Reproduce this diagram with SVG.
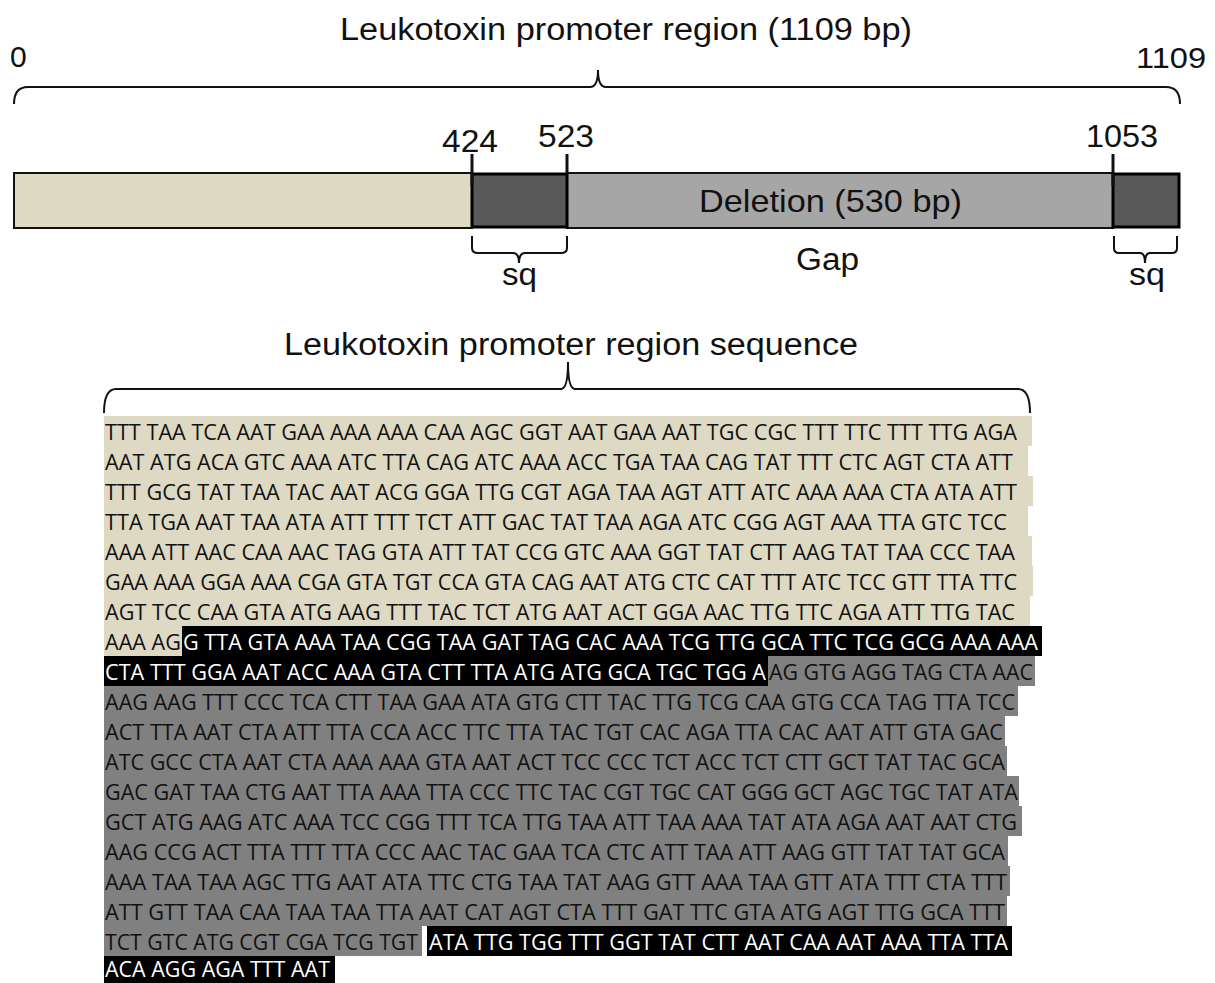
<svg xmlns="http://www.w3.org/2000/svg" width="1215" height="983" viewBox="0 0 1215 983">
<style>
.lbl{font-family:"Liberation Sans",Arial,sans-serif;fill:#111}
.brace{fill:none;stroke:#111;stroke-width:2}
.tick{stroke:#111;stroke-width:3}
.seq{font-family:"Open Sans","Noto Sans",sans-serif;font-size:21.5px;fill:#111}
.w{fill:#fff}
.bg1{fill:#DDD9C3}
.bg2{fill:#808080}
.bg3{fill:#000}
</style>
<rect width="1215" height="983" fill="#fff"/>
<g id="header">
<text class="lbl" x="340" y="40" font-size="31" textLength="572" lengthAdjust="spacingAndGlyphs">Leukotoxin promoter region (1109 bp)</text>
<text class="lbl" x="10" y="67" font-size="30">0</text>
<text class="lbl" x="1136" y="68" font-size="30" textLength="70" lengthAdjust="spacingAndGlyphs">1109</text>
</g>
<g id="bar">
<rect x="14" y="173" width="458" height="55" fill="#DDD9C3" stroke="#111" stroke-width="2"/>
<rect x="567" y="173" width="546" height="55" fill="#A6A6A6" stroke="#111" stroke-width="2"/>
<rect x="472" y="174" width="95" height="53" fill="#595959" stroke="#000" stroke-width="3"/>
<rect x="1113" y="174" width="66" height="53" fill="#595959" stroke="#000" stroke-width="3"/>
<text class="lbl" x="699" y="212" font-size="32" textLength="263" lengthAdjust="spacingAndGlyphs">Deletion (530 bp)</text>
</g>
<g id="markers">
<line class="tick" x1="472" y1="154" x2="472" y2="186"/>
<line class="tick" x1="567" y1="154" x2="567" y2="174"/>
<line class="tick" x1="1113" y1="154" x2="1113" y2="186"/>
<text class="lbl" x="442" y="152" font-size="32" textLength="56" lengthAdjust="spacingAndGlyphs">424</text>
<text class="lbl" x="538" y="147" font-size="32" textLength="56" lengthAdjust="spacingAndGlyphs">523</text>
<text class="lbl" x="1086" y="147" font-size="32" textLength="72" lengthAdjust="spacingAndGlyphs">1053</text>
</g>
<g id="sq1">
<text class="lbl" x="502" y="285" font-size="31" textLength="35" lengthAdjust="spacingAndGlyphs">sq</text>
</g>
<g id="sq2">
<text class="lbl" x="1129" y="285" font-size="31" textLength="36" lengthAdjust="spacingAndGlyphs">sq</text>
</g>
<g id="gap">
<text class="lbl" x="796" y="270" font-size="31" textLength="63" lengthAdjust="spacingAndGlyphs">Gap</text>
</g>
<g id="seqtitle">
<text class="lbl" x="284" y="355" font-size="31" textLength="574" lengthAdjust="spacingAndGlyphs">Leukotoxin promoter region sequence</text>
</g>
<g id="connectors">
<path class="brace" d="M14,104 Q14,87 28,87 L590,87 Q598,87 598,70 Q598,87 606,87 L1166,87 Q1180,87 1180,104"/>
<path class="brace" d="M472,236 L472,248 Q472,253 478,253 L513,253 Q519,253 519,263 Q519,253 525,253 L561,253 Q567,253 567,248 L567,236"/>
<path class="brace" d="M1114,236 L1114,248 Q1114,253 1119,253 L1140,253 Q1145,253 1145,263 Q1145,253 1150,253 L1172,253 Q1177,253 1177,248 L1177,236"/>
<path class="brace" d="M104,413 Q104,389 116,389 L561,389 Q568,389 568,362 Q568,389 575,389 L1018,389 Q1030,389 1030,413"/>
</g>
<g id="sequence">
<rect class="bg1" x="104" y="416" width="928" height="30"/>
<rect class="bg1" x="104" y="446" width="924" height="30"/>
<rect class="bg1" x="104" y="476" width="929" height="30"/>
<rect class="bg1" x="104" y="506" width="924" height="30"/>
<rect class="bg1" x="104" y="536" width="928" height="30"/>
<rect class="bg1" x="104" y="566" width="929" height="30"/>
<rect class="bg1" x="104" y="596" width="926" height="30"/>
<rect class="bg1" x="104" y="626" width="78" height="30"/>
<rect class="bg3" x="182" y="626" width="860" height="30"/>
<rect class="bg3" x="104" y="656" width="664" height="30"/>
<rect class="bg2" x="768" y="656" width="267" height="30"/>
<rect class="bg2" x="104" y="686" width="914" height="30"/>
<rect class="bg2" x="104" y="716" width="901" height="30"/>
<rect class="bg2" x="104" y="746" width="903" height="30"/>
<rect class="bg2" x="104" y="776" width="915" height="30"/>
<rect class="bg2" x="104" y="806" width="918" height="30"/>
<rect class="bg2" x="104" y="836" width="904" height="30"/>
<rect class="bg2" x="104" y="866" width="906" height="30"/>
<rect class="bg2" x="104" y="896" width="903" height="30"/>
<rect class="bg2" x="104" y="926" width="318" height="30"/>
<rect class="bg3" x="427" y="926" width="585" height="30"/>
<rect class="bg3" x="104" y="956" width="231" height="27"/>
<text class="seq" x="105" y="440" textLength="912" lengthAdjust="spacingAndGlyphs">TTT TAA TCA AAT GAA AAA AAA CAA AGC GGT AAT GAA AAT TGC CGC TTT TTC TTT TTG AGA</text>
<text class="seq" x="105" y="470" textLength="908" lengthAdjust="spacingAndGlyphs">AAT ATG ACA GTC AAA ATC TTA CAG ATC AAA ACC TGA TAA CAG TAT TTT CTC AGT CTA ATT</text>
<text class="seq" x="105" y="500" textLength="912" lengthAdjust="spacingAndGlyphs">TTT GCG TAT TAA TAC AAT ACG GGA TTG CGT AGA TAA AGT ATT ATC AAA AAA CTA ATA ATT</text>
<text class="seq" x="105" y="530" textLength="902" lengthAdjust="spacingAndGlyphs">TTA TGA AAT TAA ATA ATT TTT TCT ATT GAC TAT TAA AGA ATC CGG AGT AAA TTA GTC TCC</text>
<text class="seq" x="105" y="560" textLength="910" lengthAdjust="spacingAndGlyphs">AAA ATT AAC CAA AAC TAG GTA ATT TAT CCG GTC AAA GGT TAT CTT AAG TAT TAA CCC TAA</text>
<text class="seq" x="105" y="590" textLength="912" lengthAdjust="spacingAndGlyphs">GAA AAA GGA AAA CGA GTA TGT CCA GTA CAG AAT ATG CTC CAT TTT ATC TCC GTT TTA TTC</text>
<text class="seq" x="105" y="620" textLength="910" lengthAdjust="spacingAndGlyphs">AGT TCC CAA GTA ATG AAG TTT TAC TCT ATG AAT ACT GGA AAC TTG TTC AGA ATT TTG TAC</text>
<text class="seq" x="105" y="650" textLength="76" lengthAdjust="spacingAndGlyphs">AAA AG</text>
<text class="seq w" x="183" y="650" textLength="855" lengthAdjust="spacingAndGlyphs">G TTA GTA AAA TAA CGG TAA GAT TAG CAC AAA TCG TTG GCA TTC TCG GCG AAA AAA</text>
<text class="seq w" x="105" y="680" textLength="661" lengthAdjust="spacingAndGlyphs">CTA TTT GGA AAT ACC AAA GTA CTT TTA ATG ATG GCA TGC TGG A</text>
<text class="seq" x="769" y="680" textLength="264" lengthAdjust="spacingAndGlyphs">AG GTG AGG TAG CTA AAC</text>
<text class="seq" x="105" y="710" textLength="910" lengthAdjust="spacingAndGlyphs">AAG AAG TTT CCC TCA CTT TAA GAA ATA GTG CTT TAC TTG TCG CAA GTG CCA TAG TTA TCC</text>
<text class="seq" x="105" y="740" textLength="898" lengthAdjust="spacingAndGlyphs">ACT TTA AAT CTA ATT TTA CCA ACC TTC TTA TAC TGT CAC AGA TTA CAC AAT ATT GTA GAC</text>
<text class="seq" x="105" y="770" textLength="900" lengthAdjust="spacingAndGlyphs">ATC GCC CTA AAT CTA AAA AAA GTA AAT ACT TCC CCC TCT ACC TCT CTT GCT TAT TAC GCA</text>
<text class="seq" x="105" y="800" textLength="913" lengthAdjust="spacingAndGlyphs">GAC GAT TAA CTG AAT TTA AAA TTA CCC TTC TAC CGT TGC CAT GGG GCT AGC TGC TAT ATA</text>
<text class="seq" x="105" y="830" textLength="912" lengthAdjust="spacingAndGlyphs">GCT ATG AAG ATC AAA TCC CGG TTT TCA TTG TAA ATT TAA AAA TAT ATA AGA AAT AAT CTG</text>
<text class="seq" x="105" y="860" textLength="900" lengthAdjust="spacingAndGlyphs">AAG CCG ACT TTA TTT TTA CCC AAC TAC GAA TCA CTC ATT TAA ATT AAG GTT TAT TAT GCA</text>
<text class="seq" x="105" y="890" textLength="902" lengthAdjust="spacingAndGlyphs">AAA TAA TAA AGC TTG AAT ATA TTC CTG TAA TAT AAG GTT AAA TAA GTT ATA TTT CTA TTT</text>
<text class="seq" x="105" y="920" textLength="900" lengthAdjust="spacingAndGlyphs">ATT GTT TAA CAA TAA TAA TTA AAT CAT AGT CTA TTT GAT TTC GTA ATG AGT TTG GCA TTT</text>
<text class="seq" x="105" y="950" textLength="313" lengthAdjust="spacingAndGlyphs">TCT GTC ATG CGT CGA TCG TGT</text>
<text class="seq w" x="429" y="950" textLength="579" lengthAdjust="spacingAndGlyphs">ATA TTG TGG TTT GGT TAT CTT AAT CAA AAT AAA TTA TTA</text>
<text class="seq w" x="105" y="977" textLength="225" lengthAdjust="spacingAndGlyphs">ACA AGG AGA TTT AAT</text>
</g>
</svg>
